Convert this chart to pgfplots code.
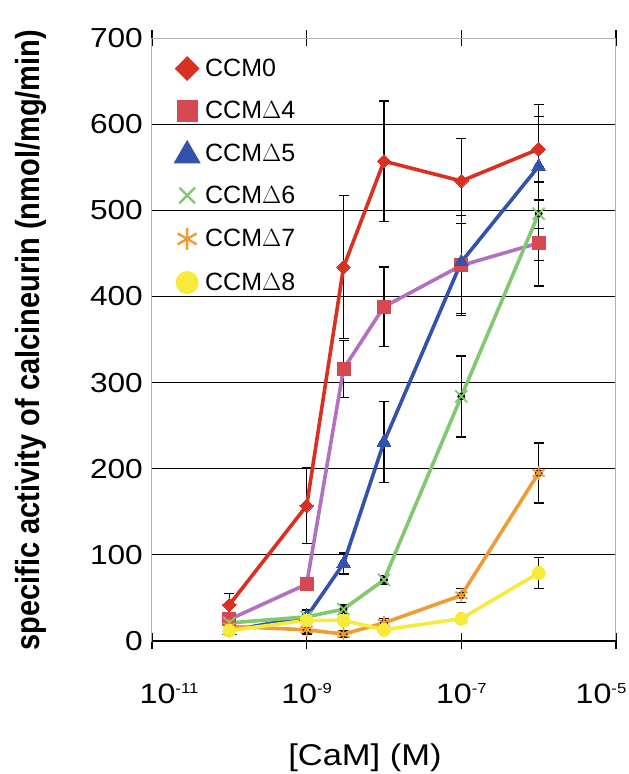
\documentclass[border=0pt]{standalone}
\usepackage{fontspec}
\setmainfont{Liberation Sans}[FakeStretch=1.15]
\newfontfamily\plainfont{Liberation Sans}
\usepackage{pgfplots}
\pgfplotsset{compat=1.18}

\definecolor{cRed}{RGB}{218,48,34}
\definecolor{cPink}{RGB}{214,72,82}
\definecolor{cPurple}{RGB}{178,112,192}
\definecolor{cBlue}{RGB}{50,82,172}
\definecolor{cGreen}{RGB}{130,200,110}
\definecolor{cOrange}{RGB}{240,156,52}
\definecolor{cYellow}{RGB}{246,234,58}

\newcommand{\tenpow}[1]{10\raisebox{10pt}{\fontsize{14.5}{14.5}\selectfont #1}}

\begin{document}
\begin{tikzpicture}
\path[use as bounding box] (-152pt,-133pt) rectangle (477pt,641pt);
\begin{axis}[
    scale only axis,
    width=464pt, height=603pt,
    xmode=log,
    xmin=1e-11, xmax=1e-5,
    ymin=0, ymax=700,
    xtick={1e-11,1e-9,1e-7,1e-5},
    xticklabels={\hspace*{34pt}\tenpow{-11},\tenpow{-9},\tenpow{-7},\tenpow{-5}\hspace*{30pt}},
    minor xtick={},
    ytick={0,100,...,600},
    extra y ticks={700},
    extra y tick style={grid=none},
    ymajorgrids,
    grid style={black, line width=1.2pt},
    axis line style={gray!60, line width=1pt},
    tick align=center,
    major tick length=16pt,
    xtick style={black, line width=1.2pt},
    ytick style={draw=none},
    /pgf/number format/assume math mode=true,
    yticklabel style={font=\fontsize{27.5}{27.5}\selectfont, anchor=east, inner sep=0pt, xshift=-1pt},
    xticklabel style={font=\fontsize{28}{28}\selectfont, anchor=north, inner sep=0pt, yshift=-34pt},
    xlabel={[CaM] (M)},
    xlabel style={font=\fontsize{30}{30}\selectfont, at={(axis description cs:0.459,-0.194)}, anchor=center},
    ylabel={specific activity of calcineurin (nmol/mg/min)},
    ylabel style={font=\plainfont\bfseries\fontsize{29}{29}\selectfont, at={(axis description cs:-0.26,0.499)}, anchor=center, yscale=1.15},
    clip=false,
    legend style={at={(axis description cs:0.053,0.966)}, anchor=north west, draw=none, fill=none,
        font=\plainfont\fontsize{25}{25}\selectfont, row sep=23pt, inner sep=0pt,
        nodes={inner sep=0pt}},
    legend cell align=left,
    legend image code/.code={\path[draw=none, fill=none] (-10pt,-8pt) rectangle (18pt,8pt); \draw[#1] plot coordinates {(0pt,0pt)};},
    every axis plot/.append style={line width=3.6pt},
    eb/.style={forget plot, only marks, mark=none, draw=black,
        error bars/.cd, y dir=both, y explicit,
        error bar style={black, line width=1.4pt},
        error mark options={black, rotate=90, mark size=5pt, line width=1.4pt}},
    after end axis/.code={\draw[black, line width=1.2pt] (rel axis cs:0,0) -- (rel axis cs:1,0);},
]
% legend entries
\addlegendimage{only marks, mark=square*, mark options={rotate=45, fill=cRed, draw=cRed}, mark size=7pt}
\addlegendentry{CCM0}
\addlegendimage{only marks, mark=square*, mark options={fill=cPink, draw=cPink}, mark size=8.8pt}
\addlegendentry{CCM$\Delta$4}
\addlegendimage{only marks, mark=triangle*, mark options={fill=cBlue, draw=cBlue, yshift=-2pt}, mark size=12pt}
\addlegendentry{CCM$\Delta$5}
\addlegendimage{only marks, mark=x, mark options={draw=cGreen, line width=2.4pt}, mark size=11pt}
\addlegendentry{CCM$\Delta$6}
\addlegendimage{only marks, mark=asterisk, mark options={draw=cOrange, line width=2.4pt}, mark size=11pt}
\addlegendentry{CCM$\Delta$7}
\addlegendimage{only marks, mark=*, mark options={fill=cYellow, draw=cYellow}, mark size=9.7pt}
\addlegendentry{CCM$\Delta$8}

% error bars
\addplot[eb] coordinates {(1e-10,42) +- (0,13) (1e-9,157) +- (0,44) (3e-9,434) +- (0,83) (1e-8,557) +- (0,70) (1e-7,534) +- (0,49) (1e-6,571) +- (0,38)};
\addplot[eb] coordinates {(1e-10,25) +- (0,6) (1e-9,66) +- (0,4) (3e-9,316) +- (0,33) (1e-8,388) +- (0,46) (1e-7,436) +- (0,58) (1e-6,462) +- (0,50)};
\addplot[eb] coordinates {(1e-10,12) +- (0,5) (1e-9,28) +- (0,8) (3e-9,90) +- (0,12) (1e-8,231) +- (0,47) (1e-7,440) +- (0,60) (1e-6,551) +- (0,72)};
\addplot[eb] coordinates {(1e-10,21) +- (0,3) (1e-9,28) +- (0,3) (3e-9,37) +- (0,5) (1e-8,71) +- (0,5) (1e-7,284) +- (0,47) (1e-6,496) +- (0,54)};
\addplot[eb] coordinates {(1e-10,17) +- (0,5) (1e-9,13) +- (0,5) (3e-9,8) +- (0,4) (1e-8,21) +- (0,5) (1e-7,53) +- (0,8) (1e-6,195) +- (0,35)};
\addplot[eb] coordinates {(1e-10,12) +- (0,3) (1e-9,24) +- (0,3) (3e-9,24) +- (0,3) (1e-8,13) +- (0,3) (1e-7,26) +- (0,3) (1e-6,79) +- (0,18)};

% series
\addplot[forget plot, cRed, mark=square*, mark size=4.8pt, mark options={rotate=45, fill=cRed, draw=cRed, line width=0pt}]
  coordinates {(1e-10,42) (1e-9,157) (3e-9,434) (1e-8,557) (1e-7,534) (1e-6,571)};
\addplot[forget plot, cPurple, mark=square*, mark size=6.5pt, mark options={fill=cPink, draw=cPink, line width=0pt}]
  coordinates {(1e-10,25) (1e-9,66) (3e-9,316) (1e-8,388) (1e-7,436) (1e-6,462)};
\addplot[forget plot, cBlue, mark=triangle*, mark size=8pt, mark options={fill=cBlue, draw=cBlue, line width=0pt}]
  coordinates {(1e-10,12) (1e-9,28) (3e-9,90) (1e-8,231) (1e-7,440) (1e-6,551)};
\addplot[forget plot, cGreen, mark=x, mark size=8.5pt, mark options={draw=cGreen, line width=1.8pt}]
  coordinates {(1e-10,21) (1e-9,28) (3e-9,37) (1e-8,71) (1e-7,284) (1e-6,496)};
\addplot[forget plot, cOrange, mark=asterisk, mark size=7pt, mark options={draw=cOrange, line width=1.8pt}]
  coordinates {(1e-10,17) (1e-9,13) (3e-9,8) (1e-8,21) (1e-7,53) (1e-6,195)};
\addplot[forget plot, cYellow, mark=*, mark size=6.5pt, mark options={fill=cYellow, draw=cYellow, line width=0pt}]
  coordinates {(1e-10,12) (1e-9,24) (3e-9,24) (1e-8,13) (1e-7,26) (1e-6,79)};
\end{axis}
\end{tikzpicture}
\end{document}
